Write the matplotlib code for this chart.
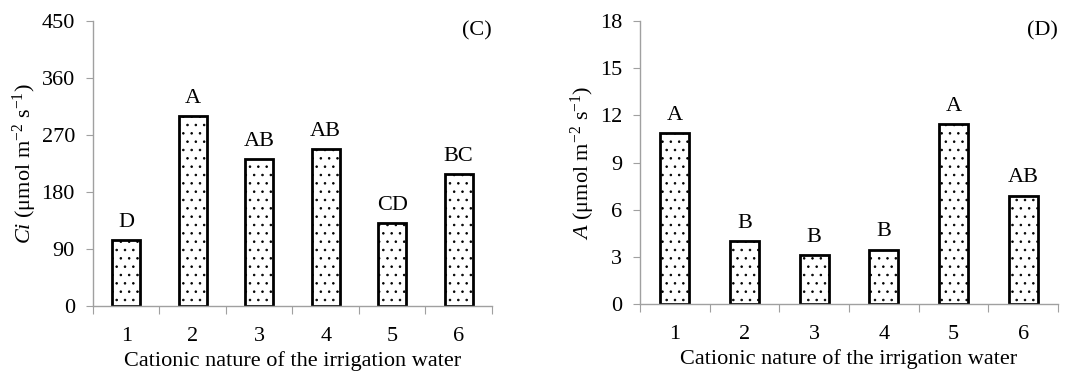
import matplotlib
matplotlib.use('Agg')
import matplotlib.pyplot as plt

plt.rcParams['font.family'] = 'Liberation Serif'
plt.rcParams['mathtext.fontset'] = 'custom'
plt.rcParams['mathtext.rm'] = 'Liberation Serif'
plt.rcParams['mathtext.it'] = 'Liberation Serif:italic'
plt.rcParams['hatch.linewidth'] = 0.6

categories = ['1', '2', '3', '4', '5', '6']

# panel C: intercellular CO2
ci_values = [104, 300, 232, 248, 131, 208]
ci_letters = ['D', 'A', 'AB', 'AB', 'CD', 'BC']

# panel D: net photosynthesis
a_values = [10.85, 3.98, 3.09, 3.45, 11.45, 6.9]
a_letters = ['A', 'B', 'B', 'B', 'A', 'AB']

fs = 16


def draw_panel(ax, values, letters, ymax, ystep, ylabel, tag, offset):
    x = list(range(1, len(categories) + 1))
    ax.bar(x, values, width=0.42, color='white', edgecolor='black',
           linewidth=2.0, hatch='..', zorder=2)
    for xi, v, lab in zip(x, values, letters):
        ax.annotate(lab, (xi, v), xytext=(0, offset), textcoords='offset points',
                    ha='center', va='bottom', fontsize=fs)

    ax.set_xlim(0.5, len(categories) + 0.5)
    ax.set_ylim(0, ymax)
    ax.set_yticks([i * ystep for i in range(int(ymax / ystep) + 1)])

    # ticks between categories, labels under bars
    ax.set_xticks([i + 0.5 for i in range(len(categories) + 1)])
    ax.set_xticklabels([])
    ax.set_xticks(x, minor=True)
    ax.set_xticklabels(categories, minor=True)
    ax.tick_params(axis='x', which='major', length=6, color='#a0a0a0', direction='out')
    ax.tick_params(axis='x', which='minor', length=0, pad=15, labelsize=fs)
    ax.tick_params(axis='y', length=5, color='#a0a0a0', pad=8, labelsize=fs)

    for s in ['top', 'right']:
        ax.spines[s].set_visible(False)
    for s in ['left', 'bottom']:
        ax.spines[s].set_color('#a0a0a0')
        ax.spines[s].set_linewidth(1.0)

    ax.set_xlabel('Cationic nature of the irrigation water', fontsize=fs, labelpad=4)
    ax.set_ylabel(ylabel, fontsize=fs, labelpad=2)
    ax.text(1.0, 0.965, tag, transform=ax.transAxes, ha='right', va='center', fontsize=fs)


fig = plt.figure(figsize=(10.84, 3.74), dpi=100)
ax1 = fig.add_axes([0.0858, 0.182, 0.368, 0.762])
ax2 = fig.add_axes([0.5904, 0.187, 0.3856, 0.757])

draw_panel(ax1, ci_values, ci_letters, 450, 90,
           r'$\it{Ci}$ (μmol m$^{-2}$ s$^{-1}$)', '(C)', 6)
draw_panel(ax2, a_values, a_letters, 18, 3,
           r'$\it{A}$ (μmol m$^{-2}$ s$^{-1}$)', '(D)', 6)

fig.savefig('out.png', dpi=100)
